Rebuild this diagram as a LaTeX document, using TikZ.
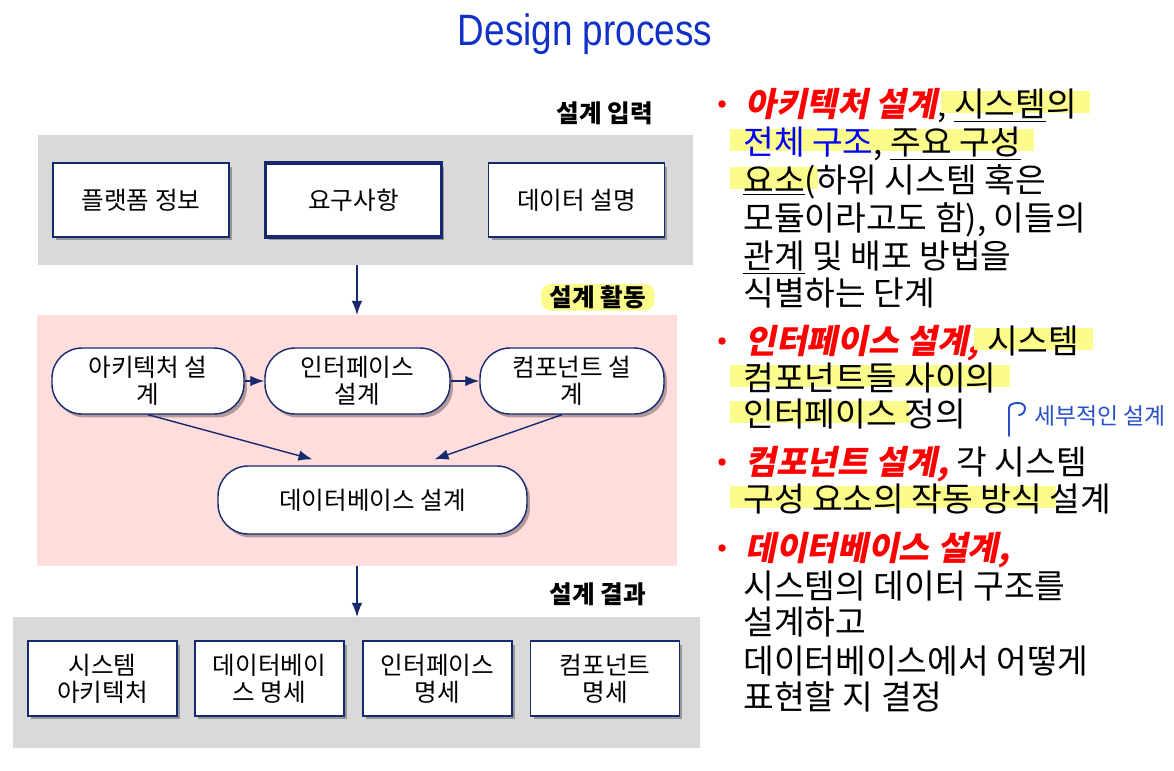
\documentclass[tikz,border=0pt]{standalone}
\usepackage{fontspec}
\setmainfont{Noto Sans CJK KR}
\newfontfamily\titlefont{Liberation Sans}
\newfontfamily\krslant[FakeSlant=0.2]{Noto Sans CJK KR}
\usetikzlibrary{arrows.meta,shadows}

\definecolor{navy}{RGB}{22,40,110}
\definecolor{panelgray}{RGB}{217,217,217}
\definecolor{panelpink}{RGB}{255,221,221}
\definecolor{hlyellow}{RGB}{252,252,140}
\definecolor{titleblue}{RGB}{16,48,200}
\definecolor{noteblue}{RGB}{40,80,200}

% highlighter pen behind a piece of text
\newlength\hlwd
\newcommand\hlt[1]{\settowidth\hlwd{#1}\rlap{\kern-0.4em\textcolor{hlyellow}{\rule[0.1em]{\dimexpr\hlwd+0.8em\relax}{0.66em}}}#1}
\newcommand\redhead[1]{\textcolor{red}{\krslant\bfseries #1}}

\tikzset{
  panel/.style={inner sep=0pt, outer sep=0pt},
  ptitle/.style={font=\bfseries\fontsize{14}{16}\selectfont, inner sep=1pt},
  docbox/.style={draw=navy, fill=white, line width=0.8pt, align=center,
    font=\fontsize{14}{15.5}\selectfont,
    drop shadow={shadow xshift=0.06cm, shadow yshift=-0.07cm, fill=black, opacity=0.3}},
  actbox/.style={docbox, rounded corners=0.6cm, minimum height=1.32cm},
  flow/.style={navy, line width=0.8pt, -{Latex[length=8pt,width=6pt]}},
  txt/.style={anchor=base west, inner sep=0pt, font=\fontsize{19}{22}\selectfont},
  dot/.style={circle, fill=red, inner sep=0pt, minimum size=0.15cm},
}

\begin{document}
\begin{tikzpicture}[x=0.02cm, y=-0.02cm]
    \useasboundingbox[fill=white] (0,0) rectangle (1174,771);
    \node[text=titleblue, font=\titlefont\fontsize{25}{28}\selectfont] (title) at (585,34) {\scalebox{0.84}[1]{Design process}};

    % input panel
    \node[panel, fill=panelgray, minimum width=13.1cm, minimum height=2.6cm] (inpanel) at (365.5,200) {};
    \node[ptitle, anchor=south east] (intitle) at ([xshift=-0.76cm,yshift=0.16cm]inpanel.north east) {설계 입력};
    \node[docbox, minimum width=3.52cm, minimum height=1.48cm] (platform) at (141,200) {플랫폼 정보};
    \node[docbox, line width=2pt, minimum width=3.52cm, minimum height=1.48cm] (reqs) at (353.5,200) {요구사항};
    \node[docbox, minimum width=3.52cm, minimum height=1.48cm] (datadesc) at (576.5,200) {데이터 설명};

    % activity panel
    \node[panel, fill=panelpink, minimum width=12.8cm, minimum height=5.02cm] (actpanel) at (357,440.5) {};
    \node[ptitle, anchor=south east, fill=hlyellow, rounded corners=0.2cm, inner xsep=5pt, inner ysep=1pt] (acttitle) at ([xshift=-0.44cm,yshift=0.08cm]actpanel.north east) {설계 활동};
    \node[actbox, minimum width=3.84cm] (archd) at (148,381) {아키텍처 설\\계};
    \node[actbox, minimum width=3.7cm] (ifaced) at (357.5,381) {인터페이스\\설계};
    \node[actbox, minimum width=3.68cm] (compd) at (572,381) {컴포넌트 설\\계};
    \node[actbox, minimum width=6.18cm, minimum height=1.36cm] (dbd) at (372.5,500) {데이터베이스 설계};
    \draw[flow] (archd.east) -- (ifaced.west);
    \draw[flow] (ifaced.east) -- (compd.west);
    \draw[flow] (archd.south) -- ([xshift=-1.2cm,yshift=0.12cm]dbd.north);
    \draw[flow] ([xshift=-0.2cm]compd.south) -- ([xshift=1.24cm,yshift=0.12cm]dbd.north);

    % output panel
    \node[panel, fill=panelgray, minimum width=13.74cm, minimum height=2.62cm] (outpanel) at (356.5,682.5) {};
    \node[ptitle, anchor=south east] (outtitle) at ([xshift=-1.04cm,yshift=0.18cm]outpanel.north east) {설계 결과};
    \node[docbox, minimum width=2.98cm, minimum height=1.5cm] (archspec) at (102.5,678.5) {시스템\\아키텍처};
    \node[docbox, minimum width=2.98cm, minimum height=1.5cm] (dbspec) at (269.5,678.5) {데이터베이\\스 명세};
    \node[docbox, minimum width=2.98cm, minimum height=1.5cm] (ifacespec) at (437.5,678.5) {인터페이스\\명세};
    \node[docbox, minimum width=2.98cm, minimum height=1.5cm] (compspec) at (605,678.5) {컴포넌트\\명세};

    \draw[flow] (actpanel.north |- inpanel.south) -- (actpanel.north);
    \draw[flow] (actpanel.south) -- (outpanel.north -| actpanel.south);

    % bullet text
    \node[dot] (dot1) at (722,104) {};
    \node[txt] (l1) at (745,116) {\redhead{아키텍처 설계}, \hlt{\underline{시스템}의}};
    \node[txt] (l2) at (743,154) {\hlt{\textcolor{blue}{전체 구조}, \underline{주요 구성}}};
    \node[txt] (l3) at (743,192) {\hlt{\underline{요소}}(하위 시스템 혹은};
    \node[txt] (l4) at (743,230) {모듈이라고도 함), 이들의};
    \node[txt] (l5) at (743,268) {\underline{관계} 및 배포 방법을};
    \node[txt] (l6) at (743,305) {식별하는 단계};

    \node[dot] (dot2) at (722,341) {};
    \node[txt] (l7) at (745,353) {\redhead{인터페이스 설계,} \hlt{시스템}};
    \node[txt] (l8) at (743,390) {\hlt{컴포넌트들 사이의}};
    \node[txt] (l9) at (743,426) {\hlt{인터페이스} 정의};

    \node[dot] (dot3) at (722,462) {};
    \node[txt] (l10) at (745,474) {\redhead{컴포넌트 설계,} 각 시스템};
    \node[txt] (l11) at (743,511) {\hlt{구성 요소의 작동 방식} 설계};

    \node[dot] (dot4) at (722,548) {};
    \node[txt] (l12) at (745,560) {\redhead{데이터베이스 설계,}};
    \node[txt] (l13) at (743,598) {시스템의 데이터 구조를};
    \node[txt] (l14) at (743,634) {설계하고};
    \node[txt] (l15) at (743,673) {데이터베이스에서 어떻게};
    \node[txt] (l16) at (743,709) {표현할 지 결정};

    % pen note
    \coordinate (hookfoot) at (1009,436);
    \draw[noteblue, line width=1.1pt, line cap=round] (hookfoot) -- (1009,408) to[out=90,in=180] (1018,403) to[out=0,in=90] (1025,408) to[out=-90,in=0] (1019,415);
    \node[text=noteblue, anchor=west, inner sep=0pt, font=\fontsize{13}{15}\selectfont] (note) at (1034,416) {세부적인 설계};
\end{tikzpicture}
\end{document}
